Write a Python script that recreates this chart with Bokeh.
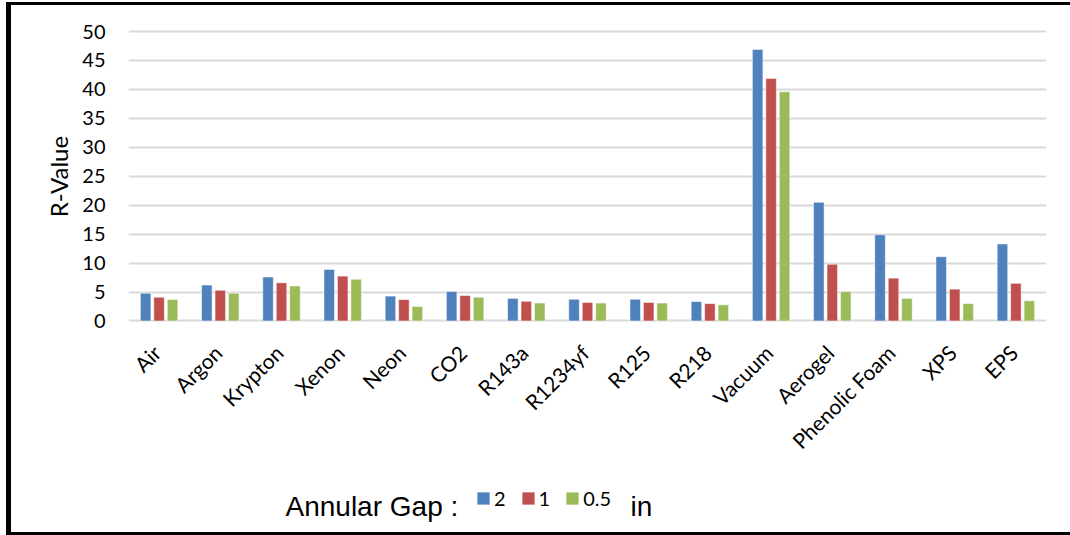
import math
from bokeh.plotting import figure
from bokeh.models import (ColumnDataSource, FactorRange, Range1d, Legend, LegendItem,
                          Label, FixedTicker)
from bokeh.core.properties import value
from bokeh.transform import dodge
from bokeh.embed import file_html
from bokeh.resources import INLINE

# R-value by fill material for three annular gap widths (inches)
materials = ["Air", "Argon", "Krypton", "Xenon", "Neon", "CO2", "R143a", "R1234yf",
             "R125", "R218", "Vacuum", "Aerogel", "Phenolic Foam", "XPS", "EPS"]
gap_2in = [4.8, 6.2, 7.6, 8.9, 4.3, 5.1, 3.9, 3.75, 3.75, 3.35, 46.9, 20.5, 14.9, 11.1, 13.3]
gap_1in = [4.1, 5.3, 6.6, 7.75, 3.7, 4.4, 3.4, 3.2, 3.2, 3.0, 41.9, 9.8, 7.4, 5.5, 6.5]
gap_05in = [3.7, 4.8, 6.05, 7.2, 2.5, 4.1, 3.1, 3.1, 3.1, 2.8, 39.6, 5.1, 3.9, 3.0, 3.5]
gap_labels = ["2", "1", "0.5"]
y_ticks = [0, 5, 10, 15, 20, 25, 30, 35, 40, 45, 50]
colors = ["#4F81BD", "#C0504D", "#9BBB59"]

source = ColumnDataSource(dict(material=materials, g2=gap_2in, g1=gap_1in, g05=gap_05in))

# black page frame drawn as CSS background strips behind a transparent border area
frame_css = ("linear-gradient(#000,#000) 6px 2px / 5px 533px no-repeat, "
             "linear-gradient(#000,#000) 6px 2px / 1064px 3px no-repeat, "
             "linear-gradient(#000,#000) 6px 532px / 1064px 3px no-repeat, #fff")

W, H = 1070, 535
# the plotting frame reaches the bottom edge so the category labels and the
# legend row below the bars live inside it
p = figure(width=W, height=H, x_range=FactorRange(*materials, range_padding=0),
           y_range=Range1d(-37.05, 50.52), output_backend="svg", toolbar_location=None,
           min_border_left=128, min_border_right=24, min_border_top=28, min_border_bottom=0,
           styles={"background": frame_css})
p.outline_line_color = None
p.background_fill_alpha = 0
p.border_fill_alpha = 0

TICK_FONT = "Lato"

# y axis: ticks and labels only
p.yaxis.ticker = FixedTicker(ticks=y_ticks)
p.yaxis.axis_line_color = None
p.yaxis.major_tick_line_color = None
p.yaxis.minor_tick_line_color = None
p.yaxis.major_tick_out = 0
p.yaxis.major_label_standoff = 23
p.yaxis.major_label_text_font = TICK_FONT
p.yaxis.major_label_text_font_size = "20px"
p.yaxis.major_label_text_color = "black"
p.xaxis.visible = False

p.add_layout(Label(x=58, y=176, x_units="canvas", y_units="canvas", text="R-Value",
                   angle=math.pi / 2, text_align="center", text_baseline="middle",
                   text_font=TICK_FONT, text_font_size="24px", text_color="black"), "left")

p.xgrid.grid_line_color = None
p.ygrid.grid_line_color = "#D9D9D9"
p.ygrid.grid_line_width = 2

# grouped bars
offsets = [-0.22, 0.0, 0.22]
renderers = []
for col, off, c in zip(["g2", "g1", "g05"], offsets, colors):
    r = p.vbar(x=dodge("material", off, range=p.x_range), top=col, bottom=0, width=0.172,
               source=source, fill_color=c, line_color="white", line_alpha=0.5, line_width=1)
    renderers.append(r)

# slanted category names under each group
p.text(x=dodge("material", -0.04, range=p.x_range), y=-4.8, text="material", source=source,
       angle=math.pi / 4, text_align="right", text_baseline="middle",
       text_font=value(TICK_FONT), text_font_size="21px", text_color="black")

legend = Legend(items=[LegendItem(label=lab, renderers=[r]) for lab, r in zip(gap_labels, renderers)],
                orientation="horizontal", location=(347, 25),
                glyph_width=16, glyph_height=16, label_standoff=3, label_width=0, spacing=14,
                padding=0, margin=0, border_line_color=None, background_fill_alpha=0,
                label_text_font=TICK_FONT, label_text_font_size="20px", label_text_color="black")
p.add_layout(legend, "center")

p.add_layout(Label(x=285, y=506, x_units="canvas", y_units="canvas", text="Annular Gap :",
                   text_font="Liberation Sans", text_font_size="28px", text_color="black",
                   text_baseline="alphabetic"))
p.add_layout(Label(x=630, y=506, x_units="canvas", y_units="canvas", text="in",
                   text_font="Liberation Sans", text_font_size="28px", text_color="black",
                   text_baseline="alphabetic"))

open("out.html", "w").write(file_html(p, INLINE))
